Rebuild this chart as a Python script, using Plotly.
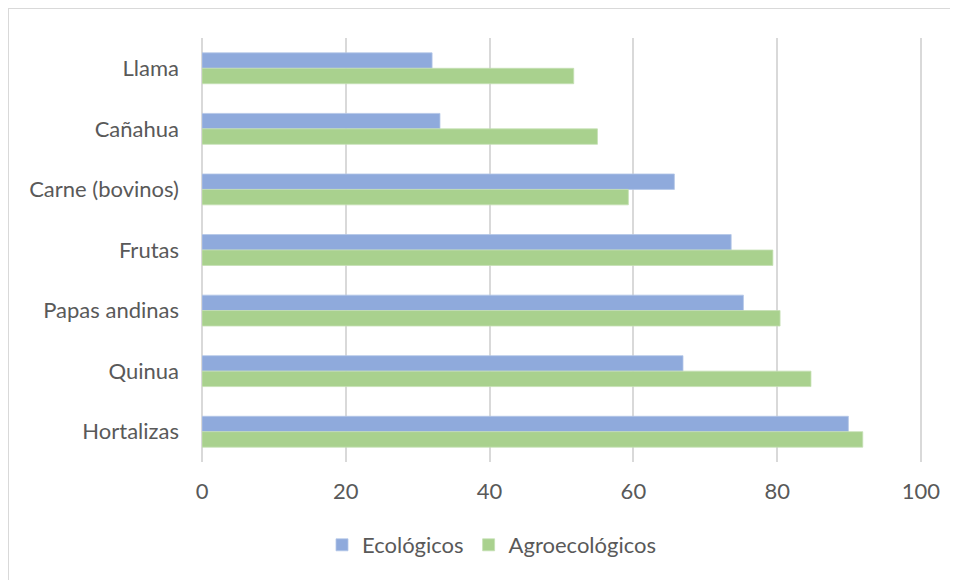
import plotly.graph_objects as go

categories = ["Llama", "Cañahua", "Carne (bovinos)", "Frutas", "Papas andinas", "Quinua", "Hortalizas"]
ecologicos = [32.0, 33.1, 65.7, 73.6, 75.3, 66.9, 89.9]
agroecologicos = [51.7, 55.0, 59.3, 79.4, 80.4, 84.7, 91.9]
x_ticks = [0, 20, 40, 60, 80, 100]

FONT = "Lato"
TXT = "#595959"
GRID = "#d9d9d9"
FS = 22

fig = go.Figure()
fig.add_trace(go.Bar(
    y=categories, x=ecologicos, name="Ecológicos", orientation="h",
    marker=dict(color="#8faadc", line=dict(color="#b4c7e7", width=0.8)),
))
fig.add_trace(go.Bar(
    y=categories, x=agroecologicos, name="Agroecológicos", orientation="h",
    marker=dict(color="#a9d18e", line=dict(color="#c5e0b4", width=0.8)),
))

# page has an 8px body margin, so figure pixel (0,0) lands at page (8,8)
W, H = 950, 572
L, R, T, B = 194, 35, 30, 118
pw, ph = W - L - R, H - T - B

def px(x):
    return (x - L) / pw

def py(y):
    return 1 - (y - T) / ph

fig.update_layout(
    width=W, height=H,
    margin=dict(l=L, r=R, t=T, b=B),
    paper_bgcolor="white", plot_bgcolor="white",
    barmode="group", bargap=0.49, bargroupgap=0,
    font=dict(family=FONT, size=FS, color=TXT),
    showlegend=True,
    legend=dict(
        orientation="h", x=px(484), xanchor="center", y=py(537), yanchor="middle",
        font=dict(family=FONT, size=FS, color=TXT),
        itemwidth=30, traceorder="normal", itemclick=False,
    ),
    xaxis=dict(
        range=[0, 100.28], tickvals=x_ticks, ticktext=[str(v) for v in x_ticks],
        showgrid=True, gridcolor=GRID, gridwidth=1.5,
        zeroline=True, zerolinecolor=GRID, zerolinewidth=1.5,
        showline=False, ticks="", ticklabelstandoff=14,
        tickfont=dict(family=FONT, size=FS, color=TXT),
        fixedrange=True,
    ),
    yaxis=dict(
        categoryorder="array", categoryarray=categories, autorange="reversed",
        showgrid=False, zeroline=False, showline=False, ticks="",
        ticklabelstandoff=22,
        tickfont=dict(family=FONT, size=FS, color=TXT),
        fixedrange=True,
    ),
    shapes=[
        dict(type="line", xref="paper", yref="paper", x0=px(0), x1=px(W + 5), y0=py(0), y1=py(0),
             line=dict(color=GRID, width=2)),
        dict(type="line", xref="paper", yref="paper", x0=px(0), x1=px(0), y0=py(0), y1=py(H + 5),
             line=dict(color=GRID, width=2)),
    ],
)

fig.write_html("out.html", config={"displayModeBar": False})
